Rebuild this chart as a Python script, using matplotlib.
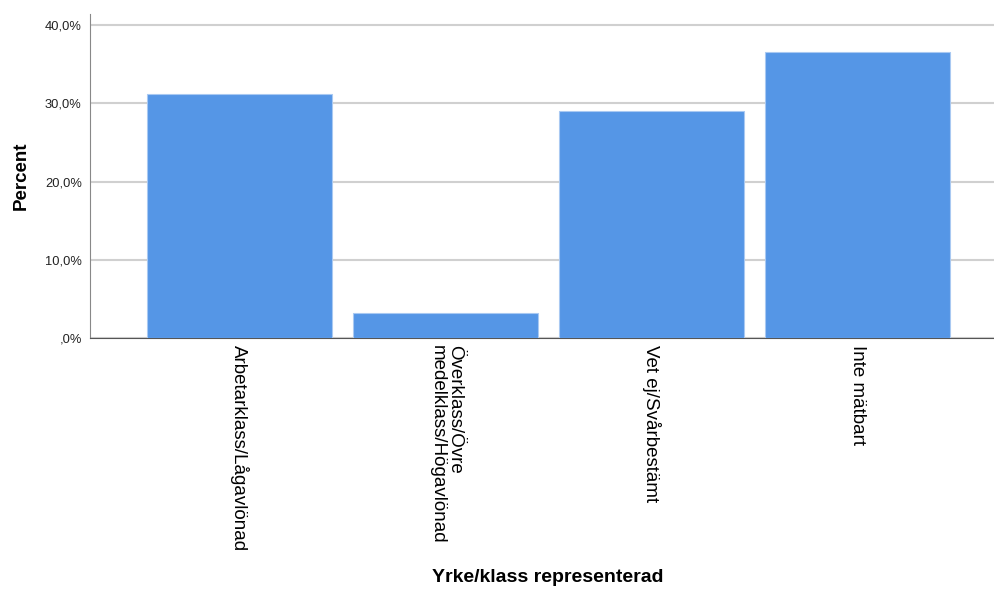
import matplotlib.pyplot as plt
from matplotlib.ticker import FuncFormatter

# Data
categories = ["Arbetarklass/Lågavlönad", "Överklass/Övre\nmedelklass/Högavlönad",
              "Vet ej/Svårbestämt", "Inte mätbart"]
percent = [31.2, 3.2, 29.0, 36.6]
y_ticks = [0, 10, 20, 30, 40]

plt.rcParams['font.family'] = ['Liberation Sans', 'DejaVu Sans']

fig = plt.figure(figsize=(9.95, 5.89), dpi=100)
ax = fig.add_axes([0.0905, 0.426, 0.9095, 0.55])

x = range(len(categories))
ax.bar(x, percent, width=0.9, color="#5596e6", edgecolor="#a9c9f2", linewidth=0.8, zorder=3)

ax.set_xlim(-0.726, 3.667)
ax.set_ylim(0, 41.4)
ax.set_yticks(y_ticks)
ax.yaxis.set_major_formatter(FuncFormatter(
    lambda v, p: ",0%" if v == 0 else f"{v:.1f}%".replace(".", ",")))
ax.grid(axis="y", color="#d0d0d0", linewidth=1.5, zorder=0)

ax.set_xticks(list(x))
ax.set_xticklabels(categories, rotation=-90, va="top", ha="center",
                   fontsize=13.5, linespacing=1.02, multialignment="left")
ax.tick_params(axis="y", length=0, pad=6, labelsize=9.3, colors="#222222")
ax.tick_params(axis="x", length=0, pad=5)

for s in ["top", "right"]:
    ax.spines[s].set_visible(False)
ax.spines["left"].set_color("#888888")
ax.spines["bottom"].set_color("#555555")

ax.set_ylabel("Percent", fontsize=13.5, fontweight="bold", labelpad=11)
fig.text(0.551, 0.005, "Yrke/klass representerad", ha="center", va="bottom",
         fontsize=14, fontweight="bold")

plt.savefig("out.png", dpi=100)
plt.close()
